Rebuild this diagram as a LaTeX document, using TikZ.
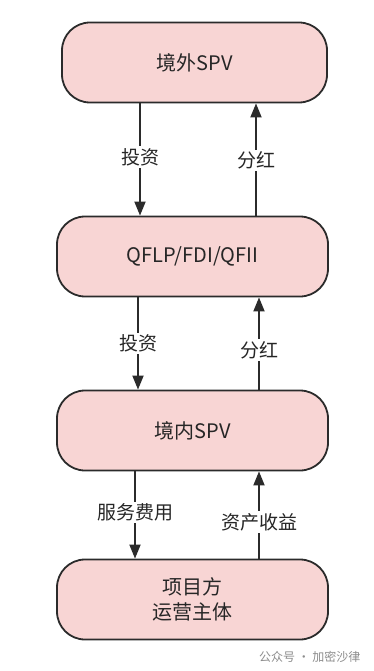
\documentclass[tikz,border=0pt]{standalone}
\usepackage{fontspec}
\setmainfont{Noto Sans CJK SC}
\usetikzlibrary{arrows.meta}
\definecolor{boxfill}{HTML}{F8D5D4}
\definecolor{boxline}{HTML}{2B2B2B}
\begin{document}
\begin{tikzpicture}[x=1pt,y=-1pt,
  entity/.style={draw=boxline,line width=1.8pt,fill=boxfill,rounded corners=28pt,
    minimum width=270pt,minimum height=80pt,inner sep=0pt,align=center,
    font=\fontsize{20}{25}\selectfont,text=black!85},
  flow/.style={draw=boxline,line width=1.8pt,-{Triangle[length=14pt,width=11pt]}},
  lbl/.style={fill=white,inner sep=2pt,font=\fontsize{19}{21}\selectfont,text=black!85}]
\useasboundingbox (0,0) rectangle (373,671);
\node[entity,minimum width=265pt] (b1) at (194.5,62.5) {境外SPV};
\node[entity,minimum width=271pt] (b2) at (192.5,256.5) {QFLP/FDI/QFII};
\node[entity,minimum width=271pt] (b3) at (192.5,430.5) {境内SPV};
\node[entity,minimum width=271pt] (b4) at (192.5,599.5) {项目方\\运营主体};
% b1 <-> b2
\draw[flow] (b1.south -| 140,0) -- node[lbl,pos=0.48]{投资} (b2.north -| 140,0);
\draw[flow] (b2.north -| 256,0) -- node[lbl,pos=0.49]{分红} (b1.south -| 256,0);
% b2 <-> b3
\draw[flow] (b2.south -| 138,0) -- node[lbl,pos=0.5]{投资} (b3.north -| 138,0);
\draw[flow] (b3.north -| 259,0) -- node[lbl,pos=0.43]{分红} (b2.south -| 259,0);
% b3 <-> b4
\draw[flow] (b3.south -| 135,0) -- node[lbl,pos=0.47]{服务费用} (b4.north -| 135,0);
\draw[flow] (b4.north -| 259,0) -- node[lbl,pos=0.42]{资产收益} (b3.south -| 259,0);
\node[font=\fontsize{12}{14}\selectfont,text=black!45,anchor=east] (foot) at (364,657) {公众号 · 加密沙律};
\end{tikzpicture}
\end{document}
